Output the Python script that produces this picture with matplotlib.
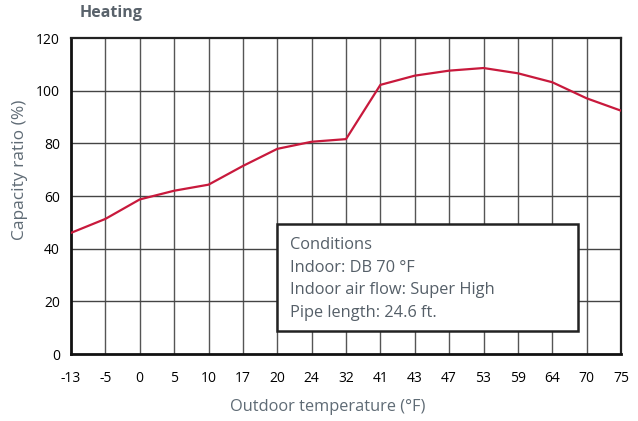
import matplotlib
matplotlib.use("Agg")
import matplotlib.pyplot as plt
from matplotlib.patches import Rectangle

categories = ["-13", "-5", "0", "5", "10", "17", "20", "24", "32", "41",
              "43", "47", "53", "59", "64", "70", "75"]
capacity = [46, 51.3, 58.7, 62, 64.3, 71.4, 77.9, 80.6, 81.6, 102.2,
            105.7, 107.6, 108.6, 106.6, 103.2, 97.1, 92.4]
y_ticks = [0, 20, 40, 60, 80, 100, 120]
conditions = ["Conditions", "Indoor: DB 70 °F",
              "Indoor air flow: Super High", "Pipe length: 24.6 ft."]

plt.rcParams['font.family'] = ['Open Sans', 'DejaVu Sans']

W, H = 638, 421
fig = plt.figure(figsize=(W / 100, H / 100), dpi=100)
ax = fig.add_axes([71 / W, 1 - 354 / H, 550 / W, 316 / H])

xs = list(range(len(categories)))
ax.plot(xs, capacity, color="#c8193c", lw=1.6, zorder=4)

ax.set_xlim(0, len(categories) - 1)
ax.set_ylim(0, 120)
ax.set_xticks(xs)
ax.set_xticklabels(categories)
ax.set_yticks(y_ticks)
ax.tick_params(length=0, labelsize=10, colors="black", pad=8)
ax.tick_params(axis="x", pad=12)

for x in xs[1:-1]:
    ax.axvline(x, color="#555555", lw=1.0, zorder=1)
for y in y_ticks[1:-1]:
    ax.axhline(y, color="#444444", lw=1.0, zorder=1)

for side in ["left", "bottom"]:
    ax.spines[side].set_linewidth(2.0)
    ax.spines[side].set_color("#111111")
for side in ["top", "right"]:
    ax.spines[side].set_linewidth(1.6)
    ax.spines[side].set_color("#222222")

fig.text(20 / W, 1 - 170 / H, "Capacity ratio (%)", rotation=90, color="#5f6b75",
         fontsize=12.5, ha="center", va="center")
fig.text(328 / W, 1 - 407 / H, "Outdoor temperature (°F)", color="#5f6b75",
         fontsize=11.8, ha="center", va="center")

# Conditions box
bx0 = (277 - 71) / 550
bx1 = (578 - 71) / 550
by0 = (354 - 331) / 316
by1 = (354 - 224) / 316
rect = Rectangle((bx0, by0), bx1 - bx0, by1 - by0, transform=ax.transAxes,
                 facecolor="white", edgecolor="#222222", lw=1.8, zorder=5)
ax.add_patch(rect)
line_px = [245, 267.5, 290, 313]
for t, py in zip(conditions, line_px):
    fig.text(290 / W, 1 - py / H, t, fontsize=11.8, color="#555f68",
             va="center", ha="left", zorder=6)

fig.text(80 / W, 1 - 13 / H, "Heating", fontsize=11.5, fontweight="bold",
         color="#59626b", va="center", ha="left")

fig.savefig("out.png", dpi=100, facecolor="white")
